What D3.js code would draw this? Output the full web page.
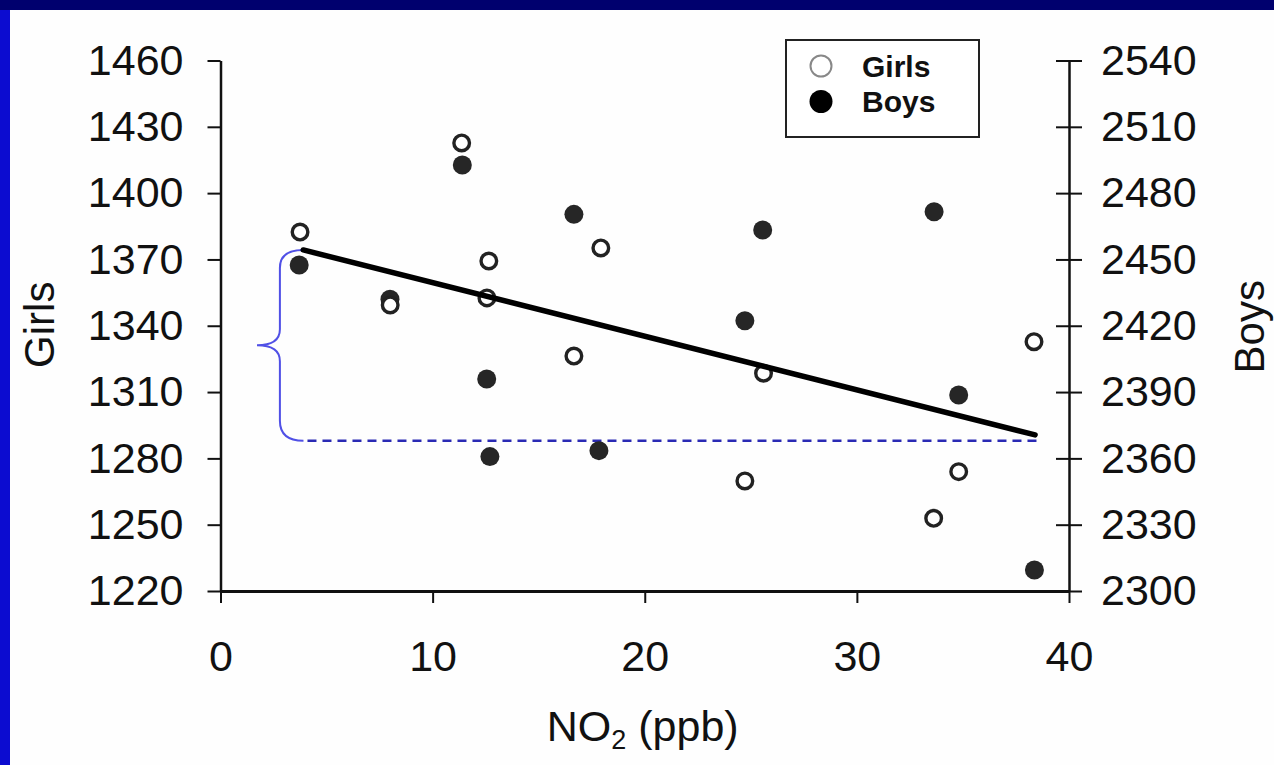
<!DOCTYPE html>
<html>
<head>
<meta charset="utf-8">
<script src="https://cdn.jsdelivr.net/npm/d3@7"></script>
<style>
  html, body { margin: 0; padding: 0; background: #fff; }
  svg { display: block; }
  text { font-family: "Liberation Sans", Arial, sans-serif; fill: #111; }
</style>
</head>
<body>
<svg id="chart" width="1274" height="765"></svg>
<script>
// ---- data ----
const xTicks = [0, 10, 20, 30, 40];
const girlsTicks = [1220, 1250, 1280, 1310, 1340, 1370, 1400, 1430, 1460];
const boysTicks = [2300, 2330, 2360, 2390, 2420, 2450, 2480, 2510, 2540];

const girlsNO2 = [3.75, 8.0, 11.37, 12.56, 12.65, 16.66, 17.93, 24.72, 25.6, 33.62, 34.8, 38.35];
const girlsValues = [1382.4, 1349.4, 1422.7, 1352.6, 1369.3, 1326.3, 1375.2, 1269.8, 1318.5, 1252.9, 1274.0, 1332.8];

const boysNO2 = [3.71, 7.99, 11.4, 12.55, 12.7, 16.66, 17.84, 24.72, 25.56, 33.64, 34.8, 38.37];
const boysValues = [2447.5, 2432.0, 2492.7, 2395.9, 2360.8, 2470.4, 2363.5, 2422.3, 2463.3, 2471.6, 2388.7, 2309.5];

const trendNO2 = [3.9, 38.4];
const trendGirls = [1374.3, 1290.6];
const refLevel = 1288;          // dashed reference level (girls axis)
const refNO2 = [4.1, 38.6];
const braceNO2 = 2.8, braceTipNO2 = 1.72;

const legendItems = ["Girls", "Boys"];

// ---- drawing ----
const svg = d3.select("#chart");
const W = 1274, H = 765;

// slide frame
svg.append("rect").attr("x", 0).attr("y", 0).attr("width", W).attr("height", H).attr("fill", "#fefefe");
svg.append("rect").attr("x", 0).attr("y", 0).attr("width", W).attr("height", 10).attr("fill", "#00006e");
svg.append("rect").attr("x", 0).attr("y", 0).attr("width", 10).attr("height", H).attr("fill", "#0c0cd0");
svg.append("rect").attr("x", 0).attr("y", 0).attr("width", 10).attr("height", 10).attr("fill", "#00006e");

const x = d3.scaleLinear().domain([0, 40]).range([220.5, 1069]);
const yL = d3.scaleLinear().domain([1220, 1460]).range([591, 60.5]);
const yR = d3.scaleLinear().domain([2300, 2540]).range([591, 60.5]);

const fontSize = 43;

function styleAxis(g) {
  g.selectAll("path.domain").attr("stroke", "#111").attr("stroke-width", 2.5);
  g.selectAll(".tick line").attr("stroke", "#111").attr("stroke-width", 2);
  g.selectAll(".tick text").attr("font-size", fontSize).attr("fill", "#111")
    .style("font-family", '"Liberation Sans", Arial, sans-serif');
}

// left axis (Girls)
const gL = svg.append("g").attr("transform", `translate(${x(0)},0)`)
  .call(d3.axisLeft(yL).tickValues(girlsTicks).tickSize(13).tickSizeOuter(0).tickPadding(24).tickFormat(d3.format("d")));
styleAxis(gL);

// right axis (Boys) with crossing ticks
const gR = svg.append("g").attr("transform", `translate(${x(40)},0)`)
  .call(d3.axisRight(yR).tickValues(boysTicks).tickSize(13).tickSizeOuter(0).tickPadding(19).tickFormat(d3.format("d")));
gR.selectAll(".tick line").attr("x1", -13);
styleAxis(gR);

// bottom axis
const gB = svg.append("g").attr("transform", `translate(0,${yL(1220)})`)
  .call(d3.axisBottom(x).tickValues(xTicks).tickSize(12).tickSizeOuter(0).tickPadding(37).tickFormat(d3.format("d")));
styleAxis(gB);
gB.select("path.domain").attr("stroke-width", 3);

// axis titles
svg.append("text").attr("transform", `translate(39,${(yL(1220)+yL(1460))/2 - 1}) rotate(-90)`)
  .attr("text-anchor", "middle").attr("dominant-baseline", "central")
  .attr("font-size", 42).text("Girls");
svg.append("text").attr("transform", `translate(1249,${(yR(2300)+yR(2540))/2 + 1}) rotate(-90)`)
  .attr("text-anchor", "middle").attr("dominant-baseline", "central")
  .attr("font-size", 42).text("Boys");

const xt = svg.append("text").attr("x", (x(0)+x(40))/2 - 2).attr("y", 741)
  .attr("text-anchor", "middle").attr("font-size", 43);
xt.append("tspan").text("NO");
xt.append("tspan").attr("font-size", 27).attr("dy", 8).text("2");
xt.append("tspan").attr("dy", -8).text(" (ppb)");

// brace + dashed reference
const yTop = yL(trendGirls[0]);
const yBot = yL(refLevel);
const yMid = (yTop + yBot) / 2;
const xb = x(braceNO2), xtip = x(braceTipNO2), xs = x(trendNO2[0]);
const bracePath = d3.path();
bracePath.moveTo(xs, yTop);
bracePath.quadraticCurveTo(xb, yTop, xb, yTop + 18);
bracePath.lineTo(xb, yMid - 16);
bracePath.quadraticCurveTo(xb, yMid, xtip, yMid);
bracePath.quadraticCurveTo(xb, yMid, xb, yMid + 16);
bracePath.lineTo(xb, yBot - 20);
bracePath.quadraticCurveTo(xb, yBot, x(refNO2[0]) - 4, yBot);
svg.append("path").attr("d", bracePath.toString())
  .attr("fill", "none").attr("stroke", "#5050e6").attr("stroke-width", 2);

svg.append("line")
  .attr("x1", x(refNO2[0])).attr("x2", x(refNO2[1]))
  .attr("y1", yBot).attr("y2", yBot)
  .attr("stroke", "#2a2ab4").attr("stroke-width", 2.5).attr("stroke-dasharray", "9,6");

// points
const boys = boysNO2.map((d, i) => ({ x: d, y: boysValues[i] }));
const girls = girlsNO2.map((d, i) => ({ x: d, y: girlsValues[i] }));

svg.append("g").selectAll("circle").data(boys).join("circle")
  .attr("cx", d => x(d.x)).attr("cy", d => yR(d.y)).attr("r", 9.5)
  .attr("fill", "#262626");

svg.append("g").selectAll("circle").data(girls).join("circle")
  .attr("cx", d => x(d.x)).attr("cy", d => yL(d.y)).attr("r", 7.8)
  .attr("fill", "#fff").attr("stroke", "#222").attr("stroke-width", 3.4);

// trend line
svg.append("line")
  .attr("x1", x(trendNO2[0])).attr("y1", yL(trendGirls[0]))
  .attr("x2", x(trendNO2[1])).attr("y2", yL(trendGirls[1]))
  .attr("stroke", "#000").attr("stroke-width", 5.5).attr("stroke-linecap", "round");

// legend
const lg = svg.append("g");
lg.append("rect").attr("x", 786).attr("y", 40).attr("width", 193).attr("height", 97)
  .attr("fill", "#fff").attr("stroke", "#222").attr("stroke-width", 2);
legendItems.forEach((name, i) => {
  const cy = 66 + i * 35.5;
  if (name === "Girls") {
    lg.append("circle").attr("cx", 821).attr("cy", cy).attr("r", 10.5)
      .attr("fill", "#fff").attr("stroke", "#888").attr("stroke-width", 2);
  } else {
    lg.append("circle").attr("cx", 821).attr("cy", cy).attr("r", 11.5).attr("fill", "#000");
  }
  lg.append("text").attr("x", 862).attr("y", cy + 10.5)
    .attr("font-size", 30).attr("font-weight", "bold").text(name);
});
</script>
</body>
</html>
